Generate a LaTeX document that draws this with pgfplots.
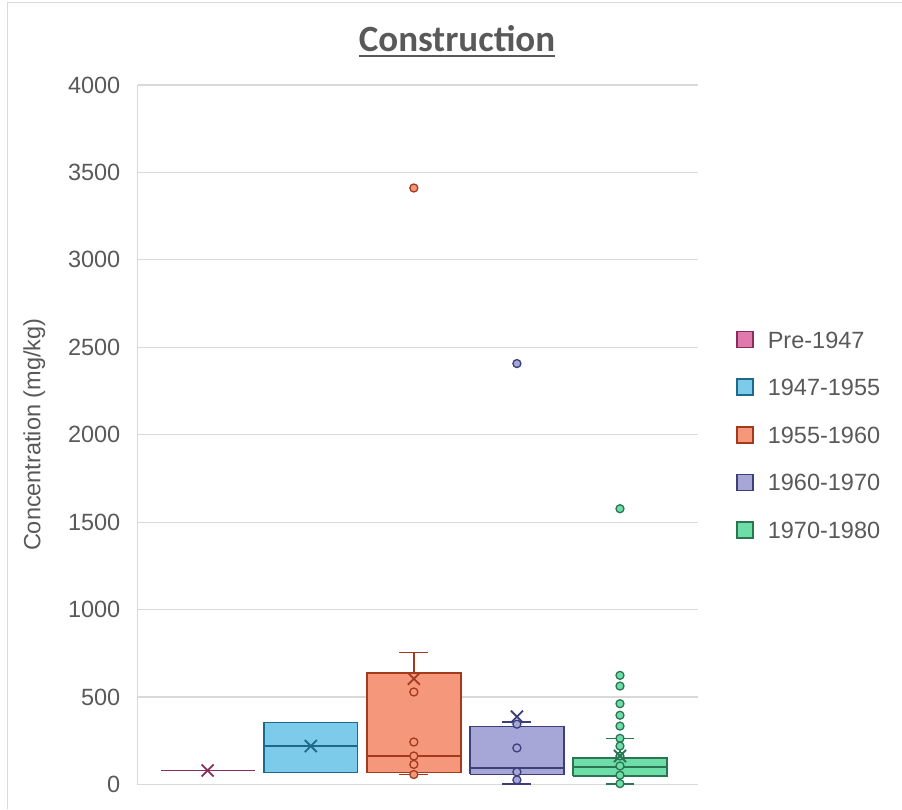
\documentclass[border=0pt]{standalone}
\usepackage{pgfplots}
\pgfplotsset{compat=1.18}
\usepackage{fontspec}
\setmainfont{Liberation Sans}
\newfontfamily\titlefont{Carlito}

\definecolor{preF}{HTML}{E07AAE}
\definecolor{preD}{HTML}{8B2D5A}
\definecolor{blueF}{HTML}{7CCBEB}
\definecolor{blueD}{HTML}{1F6A8A}
\definecolor{orF}{HTML}{F4977A}
\definecolor{orD}{HTML}{A33A1E}
\definecolor{puF}{HTML}{A6A7D6}
\definecolor{puD}{HTML}{3D3F7A}
\definecolor{grF}{HTML}{6EDEA8}
\definecolor{grD}{HTML}{2B7552}
\definecolor{txtgray}{HTML}{595959}
\definecolor{gridgray}{HTML}{D9D9D9}

\newcommand\ulbox[1]{\setbox0\hbox{#1}\rlap{\rule[-5pt]{\wd0}{2pt}}\box0}

\pgfplotsset{
  boxst/.style={line width=1.6pt, line join=miter, forget plot},
  lnst/.style={line width=1.6pt, forget plot, unbounded coords=jump},
  ptst/.style={forget plot, only marks, mark=*, mark size=4pt},
  meanst/.style={forget plot, only marks, mark=x, mark size=8.5pt, mark options={line width=1.8pt}},
}

\begin{document}
\begin{tikzpicture}
\useasboundingbox (0,0) rectangle (902pt,809pt);
\draw[gridgray, line width=1pt] (7pt,0pt) -- (7pt,806pt) -- (902pt,806pt);
\begin{axis}[
    at={(137.5pt,24.5pt)}, anchor=south west,
    scale only axis, width=560.5pt, height=699.5pt,
    xmin=0.319, xmax=5.757, ymin=0, ymax=4000,
    ytick={0,500,...,4000}, xtick=\empty,
    ymajorgrids, grid style={gridgray, line width=1.2pt},
    axis lines*=left, axis line style={gridgray, line width=1.2pt},
    major tick length=0pt,
    /pgf/number format/assume math mode=true,
    /pgf/number format/1000 sep={},
    yticklabel style={anchor=east, inner sep=0pt, xshift=-17pt,
        font=\fontsize{23.5}{28}\selectfont, text=txtgray},
    ylabel={Concentration (mg/kg)},
    every axis y label/.style={at={(axis description cs:-0.184,0.5)},
        rotate=90, anchor=center, font=\fontsize{23.5}{28}\selectfont, text=txtgray},
    title={\ulbox{Construction}},
    title style={at={(axis description cs:0.570,1.0386)}, anchor=base,
        font=\titlefont\bfseries\fontsize{37}{42}\selectfont, text=txtgray},
    legend style={at={(axis description cs:1,0.5)}, anchor=west, xshift=38pt,
        draw=none, fill=none, inner sep=0pt, row sep=30pt,
        font=\fontsize{23.5}{28}\selectfont,
        nodes={inner sep=0pt, text height=17pt, text depth=0pt, text=txtgray},
        /tikz/every odd column/.append style={column sep=14pt}},
    legend cell align=left,
    legend image code/.code={\draw[#1, line width=1.6pt] (0pt,-8pt) rectangle (16pt,8pt);},
]
% legend entries
\addlegendimage{fill=preF, draw=preD}
\addlegendentry{Pre-1947}
\addlegendimage{fill=blueF, draw=blueD}
\addlegendentry{1947-1955}
\addlegendimage{fill=orF, draw=orD}
\addlegendentry{1955-1960}
\addlegendimage{fill=puF, draw=puD}
\addlegendentry{1960-1970}
\addlegendimage{fill=grF, draw=grD}
\addlegendentry{1970-1980}

% Pre-1947: all at 80
\addplot[lnst, preD] coordinates {(0.545,80) (1.455,80)};

% 1947-1955: q1 68, median 220, q3 354
\addplot[boxst, draw=blueD, fill=blueF]
    coordinates {(1.545,68) (2.455,68) (2.455,354) (1.545,354) (1.545,68)};
\addplot[lnst, blueD] coordinates {(1.545,220) (2.455,220)};

% 1955-1960: lw 57, q1 68, median 163, q3 639, uw 754
\addplot[boxst, draw=orD, fill=orF]
    coordinates {(2.545,68) (3.455,68) (3.455,639) (2.545,639) (2.545,68)};
\addplot[lnst, orD] coordinates {(2.545,163) (3.455,163) (nan,nan)
    (3,639) (3,754) (nan,nan) (2.86,754) (3.14,754) (nan,nan)
    (3,68) (3,57) (nan,nan) (2.86,57) (3.14,57)};

% 1960-1970: lw 3, q1 58, median 96, q3 331, uw 357
\addplot[boxst, draw=puD, fill=puF]
    coordinates {(3.545,58) (4.455,58) (4.455,331) (3.545,331) (3.545,58)};
\addplot[lnst, puD] coordinates {(3.545,96) (4.455,96) (nan,nan)
    (4,331) (4,357) (nan,nan) (3.86,357) (4.14,357) (nan,nan)
    (4,58) (4,3) (nan,nan) (3.86,3) (4.14,3)};

% 1970-1980: lw 2, q1 49, median 100, q3 150, uw 264
\addplot[boxst, draw=grD, fill=grF]
    coordinates {(4.545,49) (5.455,49) (5.455,150) (4.545,150) (4.545,49)};
\addplot[lnst, grD] coordinates {(4.545,100) (5.455,100) (nan,nan)
    (5,150) (5,264) (nan,nan) (4.86,264) (5.14,264) (nan,nan)
    (5,49) (5,2) (nan,nan) (4.86,2) (5.14,2)};

% points (inner points and outliers)
\addplot[ptst, mark options={draw=orD, fill=orF, line width=1.3pt}]
    coordinates {(3,3411) (3,529) (3,243) (3,163) (3,115) (3,57)};
\addplot[ptst, mark options={draw=puD, fill=puF, line width=1.3pt}]
    coordinates {(4,2407) (4,345) (4,209) (4,72) (4,26)};
\addplot[ptst, mark options={draw=grD, fill=grF, line width=1.3pt}]
    coordinates {(5,1577) (5,624) (5,563) (5,462) (5,396) (5,334) (5,264)
                 (5,220) (5,163) (5,106) (5,53) (5,5)};

% means
\addplot[meanst, preD] coordinates {(1,80)};
\addplot[meanst, blueD] coordinates {(2,220)};
\addplot[meanst, orD] coordinates {(3,605)};
\addplot[meanst, puD] coordinates {(4,388)};
\addplot[meanst, grD] coordinates {(5,163)};
\end{axis}
\end{tikzpicture}
\end{document}
